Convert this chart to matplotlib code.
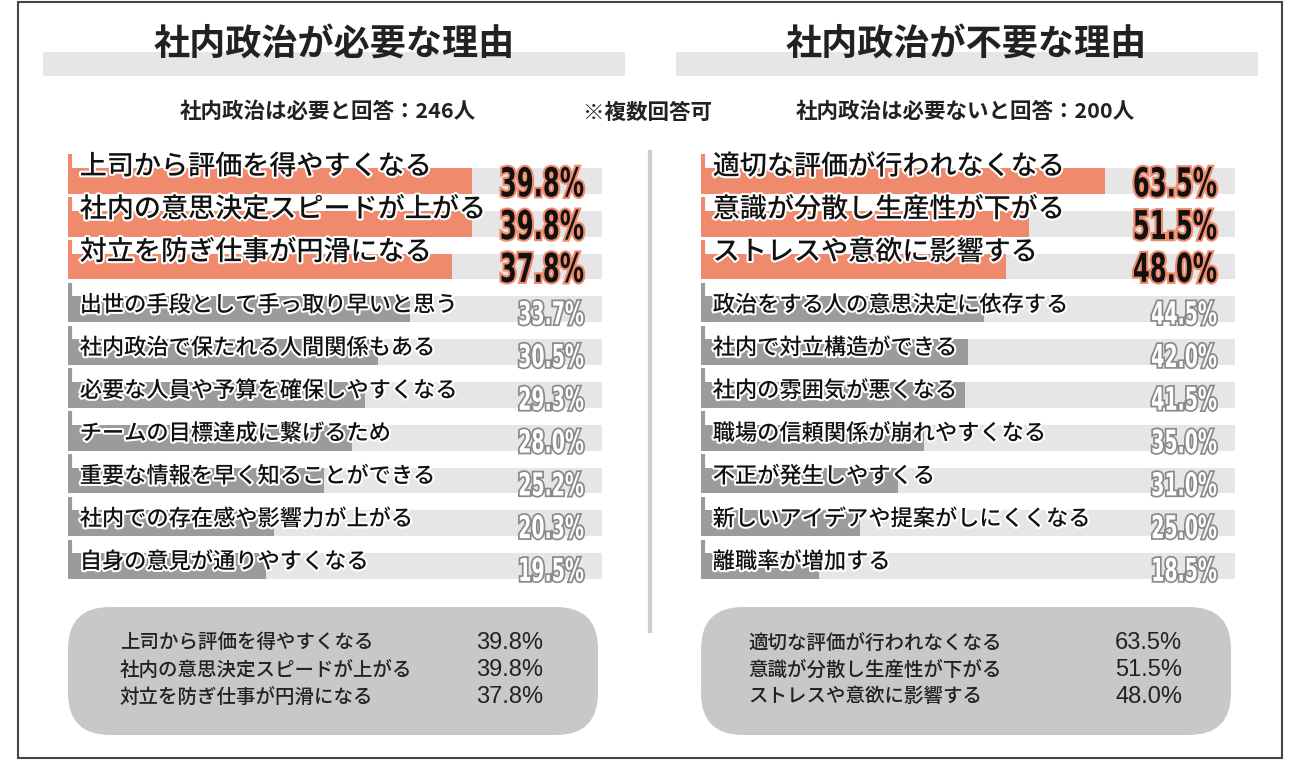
import matplotlib
matplotlib.use("Agg")
import matplotlib.pyplot as plt
import matplotlib.patheffects as pe
from matplotlib.patches import Rectangle, FancyBboxPatch, PathPatch
from matplotlib.textpath import TextPath
from matplotlib.font_manager import FontProperties
from matplotlib.transforms import Affine2D, ScaledTranslation

plt.rcParams['font.family'] = ['Noto Sans CJK JP', 'DejaVu Sans']

# data
left_title = '社内政治が必要な理由'
right_title = '社内政治が不要な理由'
left_note = '社内政治は必要と回答：246人'
mid_note = '※複数回答可'
right_note = '社内政治は必要ないと回答：200人'

left_labels = ['上司から評価を得やすくなる', '社内の意思決定スピードが上がる', '対立を防ぎ仕事が円滑になる',
               '出世の手段として手っ取り早いと思う', '社内政治で保たれる人間関係もある',
               '必要な人員や予算を確保しやすくなる', 'チームの目標達成に繋げるため',
               '重要な情報を早く知ることができる', '社内での存在感や影響力が上がる',
               '自身の意見が通りやすくなる']
left_vals = [39.8, 39.8, 37.8, 33.7, 30.5, 29.3, 28.0, 25.2, 20.3, 19.5]

right_labels = ['適切な評価が行われなくなる', '意識が分散し生産性が下がる', 'ストレスや意欲に影響する',
                '政治をする人の意思決定に依存する', '社内で対立構造ができる', '社内の雰囲気が悪くなる',
                '職場の信頼関係が崩れやすくなる', '不正が発生しやすくる', '新しいアイデアや提案がしにくくなる',
                '離職率が増加する']
right_vals = [63.5, 51.5, 48.0, 44.5, 42.0, 41.5, 35.0, 31.0, 25.0, 18.5]

ORANGE = '#ef8a6c'
DARK = '#9b9b9b'
LIGHT = '#e6e6e6'
NTOP = 3

W, H = 1300, 760
fig = plt.figure(figsize=(W / 100, H / 100), dpi=100)

bg = fig.add_axes([0, 0, 1, 1])
bg.set_xlim(0, W)
bg.set_ylim(H, 0)
bg.axis('off')

# frame
bg.add_patch(Rectangle((18, 2), 1264, 756, fill=False, edgecolor='#444444', lw=1.5))

# title bars and titles
for x0, cx, title in [(43, 334, left_title), (676, 966, right_title)]:
    bg.add_patch(Rectangle((x0, 52), 582, 24, color=LIGHT, lw=0))
    bg.text(cx, 45, title, ha='center', va='center', fontsize=26, fontweight='bold', color='#222222')

bg.text(328, 112, left_note, ha='center', va='center', fontsize=15.5, fontweight='bold', color='#222222')
bg.text(648, 112, mid_note, ha='center', va='center', fontsize=15.5, fontweight='bold', color='#222222')
bg.text(965, 112, right_note, ha='center', va='center', fontsize=15.5, fontweight='bold', color='#222222')

# divider
bg.plot([650, 650], [150, 633], color='#cccccc', lw=3, solid_capstyle='butt')

# summary boxes
for x0, tx, px, labels, vals in [(68, 120, 543, left_labels, left_vals),
                                 (701, 748, 1182, right_labels, right_vals)]:
    bg.add_patch(FancyBboxPatch((x0, 607), 530, 128, boxstyle='round,pad=0,rounding_size=42',
                                facecolor='#c8c8c8', edgecolor='none'))
    for k in range(NTOP):
        y = 643 + 27 * k
        bg.text(tx, y, labels[k], ha='left', va='center', fontsize=14, fontweight='medium', color='#222222')
        bg.text(px, y, f'{vals[k]:.1f}%', ha='right', va='center', fontsize=17, color='#222222',
                family=['Liberation Sans', 'DejaVu Sans'])

num_font = FontProperties(family='DejaVu Sans', weight='bold')


def narrow_text(ax, x, y, s, height, squeeze, face, edge, lw):
    # condensed number: text path squeezed horizontally, right-aligned at (x, y)
    tp = TextPath((0, 0), s, size=1, prop=num_font)
    ext = tp.get_extents()
    sy = height / 0.729
    sx = sy * squeeze
    tr = (Affine2D().translate(-ext.x1, -0.729 / 2).scale(sx, sy)
          + ScaledTranslation(x, y, ax.transData))
    patch = PathPatch(tp, transform=tr, facecolor=face, edgecolor='none', zorder=5,
                      path_effects=[pe.withStroke(linewidth=lw, foreground=edge)])
    ax.add_patch(patch)


def panel(x0, labels, vals):
    ax = fig.add_axes([x0 / W, 1 - 590 / H, 534 / W, 440 / H])
    ax.set_facecolor('none')
    n = len(vals)
    xmax = max(vals) * 534 / 404
    ax.set_xlim(0, xmax)
    ax.set_ylim(9.56, -0.724)
    ax.axis('off')
    ys = list(range(n))
    ax.barh(ys, [xmax] * n, height=0.6, color=LIGHT, lw=0)
    colors = [ORANGE if i < NTOP else DARK for i in range(n)]
    ax.barh(ys, vals, height=0.6, color=colors, lw=0)
    for i in range(n):
        ax.vlines(xmax * 0.003, i - 0.3, i - 0.62, color=colors[i], lw=3)
        stroke = [pe.withStroke(linewidth=3, foreground='white')]
        if i < NTOP:
            ax.text(xmax * 0.022, i - 0.33, labels[i], ha='left', va='center', fontsize=19.5,
                    fontweight='medium', color='#111111', path_effects=stroke)
            narrow_text(ax, xmax * 0.965, i + 0.02, f'{vals[i]:.1f}%', 29, 0.61,
                        '#111111', ORANGE, 3)
        else:
            ax.text(xmax * 0.022, i - 0.1, labels[i], ha='left', va='center', fontsize=16,
                    fontweight='medium', color='#111111', path_effects=stroke)
            narrow_text(ax, xmax * 0.965, i + 0.08, f'{vals[i]:.1f}%', 23, 0.6,
                        'white', '#8a8a8a', 2.5)
    return ax


panel(68, left_labels, left_vals)
panel(701, right_labels, right_vals)

fig.savefig('out.png', dpi=100, facecolor='white')
